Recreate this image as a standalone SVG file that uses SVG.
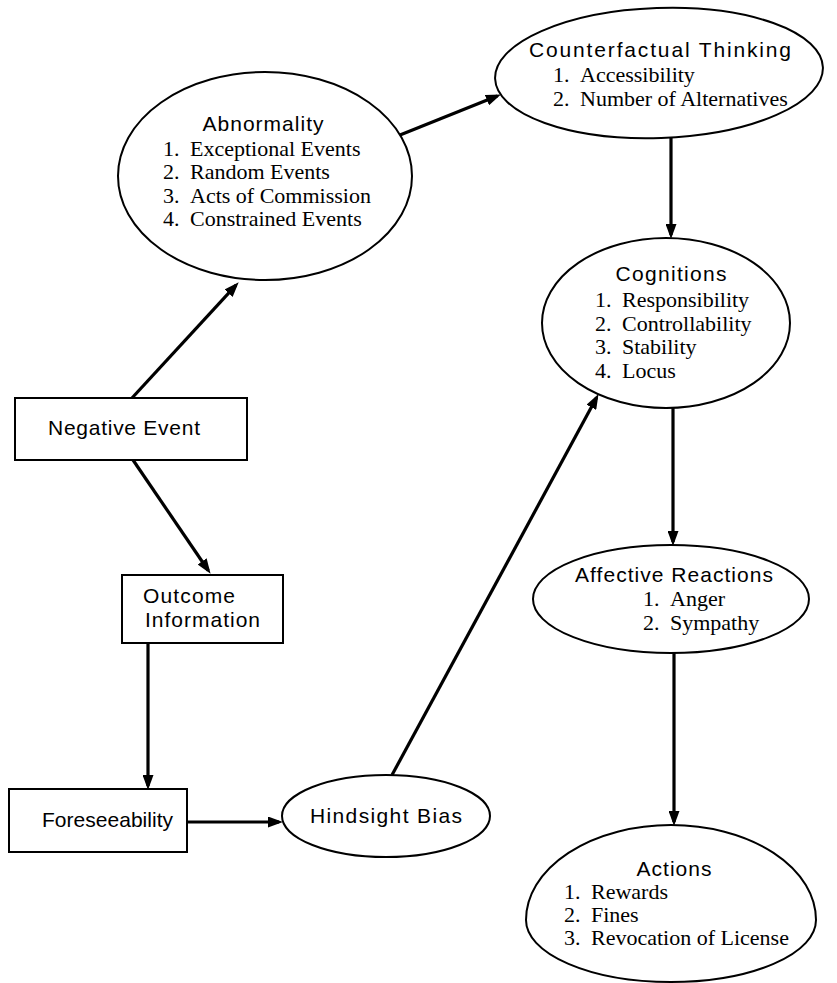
<svg xmlns="http://www.w3.org/2000/svg" width="837" height="983" viewBox="0 0 837 983">
<style>
.shape{fill:#fff;stroke:#000;stroke-width:2}
.hd{font-family:"Liberation Sans",Arial,sans-serif;font-size:21px;fill:#000}
.it{font-family:"Liberation Serif","Times New Roman",serif;font-size:22px;fill:#000}
.conn line{stroke:#000;stroke-width:3.2;fill:none}
</style>
<defs>
<marker id="ah" markerUnits="userSpaceOnUse" markerWidth="15" markerHeight="11" refX="11" refY="5.5" orient="auto">
<path d="M0,0 L15,5.5 L0,11 z" fill="#000"/>
</marker>
</defs>
<rect width="837" height="983" fill="#fff"/>

<g class="conn" id="connectors">
<line x1="132" y1="398" x2="236" y2="285.2" marker-end="url(#ah)"/>
<line x1="400" y1="135" x2="497.2" y2="96.1" marker-end="url(#ah)"/>
<line x1="133" y1="460" x2="208.3" y2="570.5" marker-end="url(#ah)"/>
<line x1="148" y1="643" x2="148" y2="786" marker-end="url(#ah)"/>
<line x1="187" y1="822" x2="279" y2="822" marker-end="url(#ah)"/>
<line x1="392" y1="775" x2="596.6" y2="397.6" marker-end="url(#ah)"/>
<line x1="671" y1="138" x2="671" y2="235" marker-end="url(#ah)"/>
<line x1="673" y1="408" x2="673" y2="542" marker-end="url(#ah)"/>
<line x1="674" y1="653" x2="674" y2="822" marker-end="url(#ah)"/>
</g>

<g id="abnormality">
<ellipse class="shape" cx="265" cy="176" rx="147" ry="104"/>
<text class="hd" x="263" y="131" text-anchor="middle" textLength="121" lengthAdjust="spacing">Abnormality</text>
<text class="it"><tspan x="163" y="156">1.</tspan><tspan x="190" y="156">Exceptional Events</tspan></text>
<text class="it"><tspan x="163" y="179">2.</tspan><tspan x="190" y="179">Random Events</tspan></text>
<text class="it"><tspan x="163" y="203">3.</tspan><tspan x="190" y="203">Acts of Commission</tspan></text>
<text class="it"><tspan x="163" y="226">4.</tspan><tspan x="190" y="226">Constrained Events</tspan></text>
</g>

<g id="counterfactual">
<ellipse class="shape" cx="659" cy="73" rx="164" ry="65" transform="rotate(-2 659 73)"/>
<text class="hd" x="660" y="57" text-anchor="middle" textLength="262" lengthAdjust="spacing">Counterfactual Thinking</text>
<text class="it"><tspan x="553" y="82">1.</tspan><tspan x="580" y="82">Accessibility</tspan></text>
<text class="it"><tspan x="553" y="106">2.</tspan><tspan x="580" y="106">Number of Alternatives</tspan></text>
</g>

<g id="cognitions">
<ellipse class="shape" cx="666" cy="323" rx="124" ry="85"/>
<text class="hd" x="671" y="281" text-anchor="middle" textLength="111" lengthAdjust="spacing">Cognitions</text>
<text class="it"><tspan x="595" y="307">1.</tspan><tspan x="622" y="307">Responsibility</tspan></text>
<text class="it"><tspan x="595" y="331">2.</tspan><tspan x="622" y="331">Controllability</tspan></text>
<text class="it"><tspan x="595" y="354">3.</tspan><tspan x="622" y="354">Stability</tspan></text>
<text class="it"><tspan x="595" y="378">4.</tspan><tspan x="622" y="378">Locus</tspan></text>
</g>

<g id="negative-event">
<rect class="shape" x="15" y="398" width="232" height="62"/>
<text class="hd" x="48" y="435" textLength="152" lengthAdjust="spacing">Negative Event</text>
</g>

<g id="outcome-information">
<rect class="shape" x="122" y="575" width="161" height="68"/>
<text class="hd" x="143" y="603" textLength="92" lengthAdjust="spacing">Outcome</text>
<text class="hd" x="145" y="627" textLength="115" lengthAdjust="spacing">Information</text>
</g>

<g id="foreseeability">
<rect class="shape" x="9" y="789" width="178" height="63"/>
<text class="hd" x="42" y="827" textLength="131" lengthAdjust="spacing">Foreseeability</text>
</g>

<g id="hindsight-bias">
<ellipse class="shape" cx="386" cy="816" rx="104" ry="41"/>
<text class="hd" x="386" y="823" text-anchor="middle" textLength="152" lengthAdjust="spacing">Hindsight Bias</text>
</g>

<g id="affective-reactions">
<ellipse class="shape" cx="671" cy="599" rx="138" ry="54"/>
<text class="hd" x="674" y="582" text-anchor="middle" textLength="198" lengthAdjust="spacing">Affective Reactions</text>
<text class="it"><tspan x="643" y="606">1.</tspan><tspan x="670" y="606">Anger</tspan></text>
<text class="it"><tspan x="643" y="630">2.</tspan><tspan x="670" y="630">Sympathy</tspan></text>
</g>

<g id="actions">
<path class="shape" d="M526,920 A145,95 0 0 1 816,920 A145,62 0 0 1 526,920 Z"/>
<text class="hd" x="674" y="876" text-anchor="middle" textLength="75" lengthAdjust="spacing">Actions</text>
<text class="it"><tspan x="564" y="899">1.</tspan><tspan x="591" y="899">Rewards</tspan></text>
<text class="it"><tspan x="564" y="922">2.</tspan><tspan x="591" y="922">Fines</tspan></text>
<text class="it"><tspan x="564" y="945">3.</tspan><tspan x="591" y="945">Revocation of License</tspan></text>
</g>
</svg>
